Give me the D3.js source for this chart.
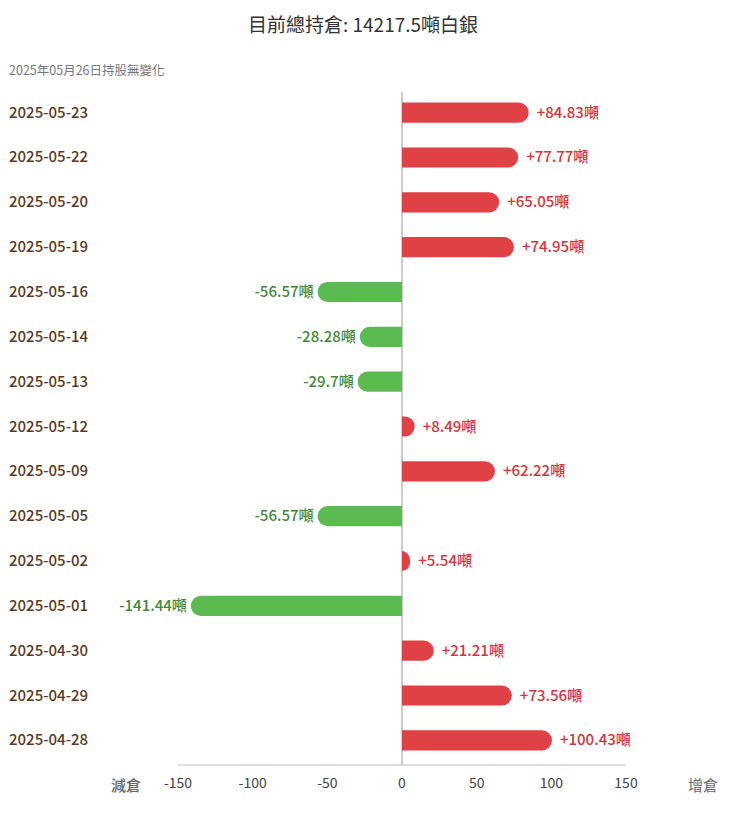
<!DOCTYPE html>
<html><head><meta charset="utf-8">
<script src="https://cdn.jsdelivr.net/npm/d3@7"></script>
<style>body{margin:0;background:#fff}svg{font-family:"Noto Sans CJK TC","Noto Sans",sans-serif}</style>
</head><body><svg id="c" width="752" height="814"></svg>
<script>
const dates = ['2025-05-23','2025-05-22','2025-05-20','2025-05-19','2025-05-16','2025-05-14','2025-05-13','2025-05-12','2025-05-09','2025-05-05','2025-05-02','2025-05-01','2025-04-30','2025-04-29','2025-04-28'];
const changes = [84.83,77.77,65.05,74.95,-56.57,-28.28,-29.7,8.49,62.22,-56.57,5.54,-141.44,21.21,73.56,100.43];
const ticks = [-150,-100,-50,0,50,100,150];

const svg = d3.select('#c');
const x = d3.scaleLinear().domain([-150,150]).range([178,626]);
const y = d3.scaleBand().domain(dates).range([90,763]).paddingInner(0.55).paddingOuter(0.28);
const bh = y.bandwidth(), r = bh/2;

svg.append('text').attr('x',363).attr('y',32).attr('text-anchor','middle')
  .attr('font-size',19).attr('fill','#333').text('目前總持倉: 14217.5噸白銀');
svg.append('text').attr('x',9).attr('y',75).attr('font-size',12.5).attr('fill','#777').text('2025年05月26日持股無變化');

// zero line and axis
svg.append('line').attr('x1',x(0)).attr('x2',x(0)).attr('y1',92).attr('y2',765).attr('stroke','#999');
svg.append('line').attr('x1',178).attr('x2',626).attr('y1',765).attr('y2',765).attr('stroke','#bbb');
svg.selectAll('.tk').data(ticks).join('text').attr('x',d=>x(d)).attr('y',788).attr('text-anchor','middle')
  .attr('font-size',14).attr('fill','#444').text(d=>d);
svg.append('text').attr('x',126).attr('y',791).attr('text-anchor','middle').attr('font-size',15).attr('font-weight',500).attr('fill','#666').text('減倉');
svg.append('text').attr('x',703).attr('y',791).attr('text-anchor','middle').attr('font-size',15).attr('fill','#666').text('增倉');

const rows = dates.map((d,i)=>({d,v:changes[i]}));
svg.selectAll('.dl').data(rows).join('text').attr('x',9).attr('y',d=>y(d.d)+r+5)
  .attr('font-size',15).attr('font-weight',500).attr('fill','#5a3a22').text(d=>d.d);

function barPath(v, top){
  const x0 = x(0), x1 = x(v);
  const rr = Math.min(r, Math.abs(x1-x0));
  if (v>=0) return `M${x0},${top}H${x1-rr}A${rr},${r} 0 0 1 ${x1-rr},${top+bh}H${x0}Z`;
  return `M${x0},${top}H${x1+rr}A${rr},${r} 0 0 0 ${x1+rr},${top+bh}H${x0}Z`;
}
svg.selectAll('.b').data(rows).join('path').attr('d',d=>barPath(d.v,y(d.d)))
  .attr('fill',d=>d.v>=0?'#df4145':'#5cbb50');
svg.selectAll('.vl').data(rows).join('text')
  .attr('x',d=>d.v>=0?x(d.v)+8:x(d.v)-4)
  .attr('y',d=>y(d.d)+r+5)
  .attr('text-anchor',d=>d.v>=0?'start':'end')
  .attr('font-size',15).attr('font-weight',500).attr('fill',d=>d.v>=0?'#d9333a':'#3f8a36')
  .text(d=>(d.v>=0?'+':'')+d.v+'噸');
</script></body></html>
